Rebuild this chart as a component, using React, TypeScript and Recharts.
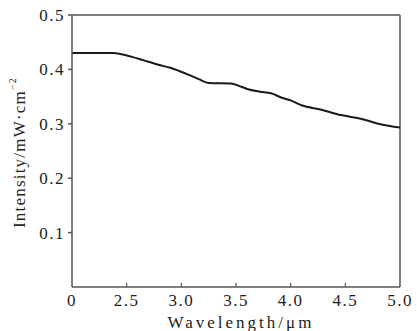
import React from "react";
import { LineChart, Line, XAxis, YAxis, ReferenceLine } from "recharts";

const wavelengths = [2.0, 2.37, 2.45, 2.55, 2.65, 2.8, 2.9, 2.98, 3.08, 3.16, 3.25, 3.45, 3.55, 3.62, 3.72, 3.82, 3.92, 4.0, 4.1, 4.28, 4.46, 4.65, 4.82, 5.0];
const intensities = [0.43, 0.43, 0.428, 0.423, 0.417, 0.408, 0.403, 0.397, 0.389, 0.382, 0.375, 0.374, 0.368, 0.363, 0.359, 0.356, 0.348, 0.343, 0.334, 0.326, 0.316, 0.309, 0.299, 0.293];
const xTicks = [2.0, 2.5, 3.0, 3.5, 4.0, 4.5, 5.0];
const yTicks = [0.1, 0.2, 0.3, 0.4, 0.5];

const data = wavelengths.map((w, i) => ({ w, v: intensities[i] }));

const FONT = "Liberation Serif, DejaVu Serif, serif";
const AXIS = "#555";
const INK = "#222";
const textStyle = { fontFamily: FONT };

function XTick(props: any) {
  const { x, y, payload, index } = props;
  const label = index === 0 ? "0" : payload.value.toFixed(1);
  const edge = index === 0 || index === xTicks.length - 1;
  return (
    <g>
      {!edge && <line x1={x} y1={y} x2={x} y2={y - 4} stroke={AXIS} strokeWidth={1.2} />}
      <text x={x} y={y + 19} textAnchor="middle" fontSize={17} style={textStyle} fill={INK} letterSpacing={1.5}>
        {label}
      </text>
    </g>
  );
}

function YLabel() {
  return (
    <text
      x={25}
      y={228}
      transform="rotate(-90 25 228)"
      fontSize={17}
      style={textStyle}
      fill={INK}
      letterSpacing={1.2}
    >
      Intensity/mW·cm
      <tspan fontSize={10} dy={-9}>
        −2
      </tspan>
    </text>
  );
}

function XLabel() {
  return (
    <text x={241} y={328} textAnchor="middle" fontSize={17} style={textStyle} fill={INK} letterSpacing={3}>
      Wavelength/μm
    </text>
  );
}

export default function App() {
  return (
    <div style={{ position: "absolute", left: 0, top: 0, background: "#fff" }}>
      <LineChart width={417} height={331} data={data} margin={{ top: 15, right: 17, left: 0, bottom: 0 }}>
        <XAxis
          dataKey="w"
          type="number"
          domain={[2, 5]}
          ticks={xTicks}
          tickSize={0}
          tickMargin={0}
          tickLine={false}
          tick={<XTick />}
          height={44}
          stroke={AXIS}
          strokeWidth={1.5}
          label={<XLabel />}
          allowDataOverflow
        />
        <YAxis
          type="number"
          domain={[0, 0.5]}
          ticks={yTicks}
          width={72}
          tickSize={4}
          tickMargin={3}
          stroke={AXIS}
          strokeWidth={1.5}
          tick={{ fontSize: 17, style: textStyle, fill: INK, letterSpacing: 1.5 }}
          tickFormatter={(v: number) => v.toFixed(1)}
          label={<YLabel />}
          allowDataOverflow
        />
        <ReferenceLine y={0.5} stroke={AXIS} strokeWidth={1.5} />
        <ReferenceLine x={5} stroke={AXIS} strokeWidth={1.5} />
        <Line
          type="monotone"
          dataKey="v"
          stroke="#1a1a1a"
          strokeWidth={2}
          dot={false}
          isAnimationActive={false}
        />
      </LineChart>
    </div>
  );
}
